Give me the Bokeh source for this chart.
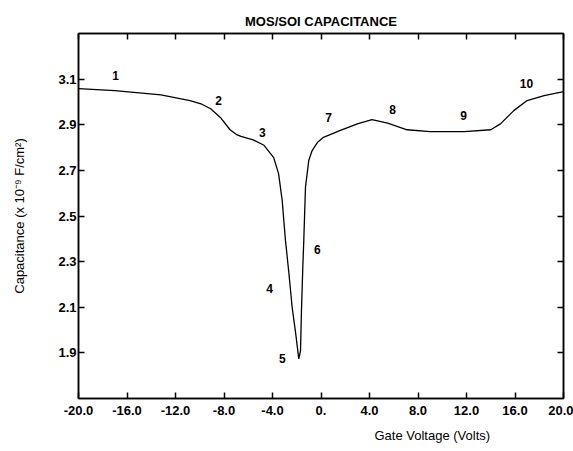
from bokeh.plotting import figure
from bokeh.models import Range1d, FixedTicker, LinearAxis, Title, ColumnDataSource
from bokeh.core.properties import value
from bokeh.embed import file_html
from bokeh.resources import INLINE

# ---- data ----
gate_voltage = [-20.0, -17.0, -13.2, -10.8, -9.9, -9.1, -8.3, -7.5, -7.0, -6.6, -5.6,
                -4.7, -3.9, -3.5, -3.2, -3.05, -2.93, -2.65, -2.38, -2.1, -1.83,
                -1.69, -1.61, -1.5, -1.42, -1.28, -1.01, -0.73, -0.3, 0.2, 1.6,
                3.0, 4.2, 5.5, 7.1, 9.0, 11.8, 14.0, 14.8, 15.9, 17.0, 18.4, 20.0]
capacitance = [3.058, 3.050, 3.031, 3.006, 2.992, 2.970, 2.932, 2.878, 2.858, 2.849, 2.834,
               2.810, 2.756, 2.686, 2.568, 2.470, 2.393, 2.250, 2.100, 1.990, 1.874,
               1.910, 2.086, 2.276, 2.393, 2.626, 2.743, 2.787, 2.822, 2.845, 2.875,
               2.904, 2.922, 2.907, 2.878, 2.870, 2.870, 2.878, 2.904, 2.962, 3.006, 3.028, 3.045]

point_labels = ["1", "2", "3", "4", "5", "6", "7", "8", "9", "10"]
label_x = [-16.95, -8.45, -4.83, -4.25, -3.18, -0.31, 0.62, 5.9, 11.75, 16.95]
label_y = [3.115, 3.006, 2.866, 2.182, 1.875, 2.353, 2.932, 2.967, 2.94, 3.08]

x_ticks = [-20, -16, -12, -8, -4, 0, 4, 8, 12, 16, 20]
x_tick_labels = ["-20.0", "-16.0", "-12.0", "-8.0", "-4.0", "0.", "4.0", "8.0", "12.0", "16.0", "20.0"]
y_ticks = [1.9, 2.1, 2.3, 2.5, 2.7, 2.9, 3.1]
y_tick_labels = ["1.9", "2.1", "2.3", "2.5", "2.7", "2.9", "3.1"]

FONT = "Liberation Sans"

p = figure(width=573, height=451, output_backend="svg", toolbar_location=None,
           x_range=Range1d(-20, 20), y_range=Range1d(1.7, 3.3),
           min_border_left=78, min_border_right=10, min_border_top=33, min_border_bottom=53)

p.xgrid.visible = False
p.ygrid.visible = False
p.outline_line_color = "black"
p.outline_line_width = 1.5
p.background_fill_color = "white"
p.border_fill_color = "white"

p.title.text = "MOS/SOI CAPACITANCE"
p.title.align = "center"
p.title.text_font = FONT
p.title.text_font_size = "13px"
p.title.text_font_style = "bold"
p.title.text_color = "black"

xa = p.below[0]
xa.ticker = FixedTicker(ticks=x_ticks)
xa.major_label_overrides = {t: l for t, l in zip(x_ticks, x_tick_labels)}
xa.major_tick_in = 6
xa.major_tick_out = 0
xa.minor_tick_in = 0
xa.minor_tick_out = 0
xa.axis_line_color = "black"
xa.axis_line_width = 1.5
xa.major_tick_line_width = 1.5
xa.major_label_text_font = FONT
xa.major_label_text_font_size = "13px"
xa.major_label_text_font_style = "bold"
xa.major_label_text_color = "black"
xa.major_label_standoff = 7

ya = p.left[0]
ya.ticker = FixedTicker(ticks=y_ticks)
ya.major_label_overrides = {t: l for t, l in zip(y_ticks, y_tick_labels)}
ya.major_tick_in = 6
ya.major_tick_out = 0
ya.minor_tick_in = 0
ya.minor_tick_out = 0
ya.axis_line_color = "black"
ya.axis_line_width = 1.5
ya.major_tick_line_width = 1.5
ya.major_label_text_font = FONT
ya.major_label_text_font_size = "13px"
ya.major_label_text_font_style = "bold"
ya.major_label_text_color = "black"
ya.major_label_standoff = 2
ya.axis_label = "Capacitance (x 10\u207b\u2079 F/cm\u00b2)"
ya.axis_label_text_font = FONT
ya.axis_label_text_font_size = "13px"
ya.axis_label_text_font_style = "normal"
ya.axis_label_text_color = "black"
ya.axis_label_standoff = 28

top = LinearAxis(ticker=FixedTicker(ticks=x_ticks), major_tick_in=6, major_tick_out=0,
                 minor_tick_in=0, minor_tick_out=0,
                 major_label_overrides={t: "" for t in x_ticks},
                 major_label_standoff=0, axis_line_width=1.5, major_tick_line_width=1.5)
p.add_layout(top, "above")
right = LinearAxis(ticker=FixedTicker(ticks=y_ticks), major_tick_in=6, major_tick_out=0,
                   minor_tick_in=0, minor_tick_out=0,
                   major_label_overrides={t: "" for t in y_ticks},
                   major_label_standoff=0, axis_line_width=1.5, major_tick_line_width=1.5)
p.add_layout(right, "right")

p.add_layout(Title(text="Gate Voltage (Volts)", align="left", offset=296,
                   text_font=FONT, text_font_size="13px", text_font_style="normal",
                   text_color="black", standoff=17), "below")

src = ColumnDataSource(dict(x=gate_voltage, y=capacitance))
p.line("x", "y", source=src, line_color="black", line_width=1.3)

lsrc = ColumnDataSource(dict(x=label_x, y=label_y, t=point_labels))
p.text("x", "y", text="t", source=lsrc, text_font=value(FONT), text_font_size="12px",
       text_font_style="bold", text_align="center", text_baseline="middle", text_color="black")

open("out.html", "w").write(file_html(p, INLINE))
